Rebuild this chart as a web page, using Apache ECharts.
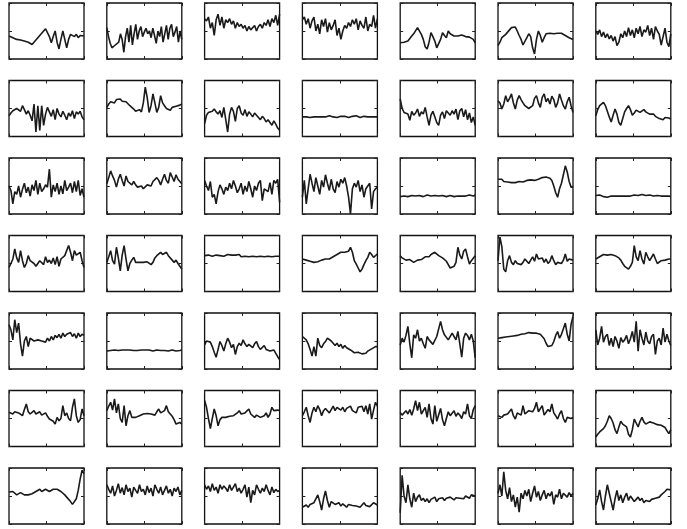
<!DOCTYPE html>
<html>
<head>
<meta charset="utf-8">
<script src="https://cdn.jsdelivr.net/npm/echarts@6/dist/echarts.min.js"></script>
<style>
  html, body { margin: 0; padding: 0; background: #fff; }
  #chart { width: 687px; height: 529px; }
</style>
</head>
<body>
<div id="chart"></div>
<script>
// Signal traces for a 7 x 7 panel grid, values on a 0..100 vertical scale.
const r1c1 = [41,40,38,36,35,34,34,33,32,31,30,28,26,30,34,38,42,46,50,54,52,40,29,40,50,30,18,35,50,35,20,35,44,42,40,44,38,42,40,41];
const r1c2 = [56,40,28,20,18,25,22,30,45,35,12,40,55,30,60,25,45,62,35,50,58,40,48,55,45,50,38,55,42,28,50,40,58,30,45,60,35,55,62,40,48,58,30,50,35];
const r1c3 = [72,68,75,55,65,42,70,80,60,75,55,70,65,72,62,68,55,65,58,62,55,60,50,58,52,55,60,50,58,62,55,65,60,70,58,72,65,78,60,80];
const r1c4 = [70,75,62,72,55,68,75,50,62,45,70,58,72,48,65,52,60,70,42,55,35,50,60,55,65,58,70,62,72,52,68,60,55,75,50,62,58,78,55,72];
const r1c5 = [29,29,30,29,32,35,41,45,48,56,54,44,35,22,18,30,47,40,32,20,18,35,47,42,38,50,45,42,41,42,41,44,43,42,40,41,39,37,35,29];
const r1c6 = [24,30,38,40,44,48,52,56,59,57,50,42,35,25,24,38,45,40,20,9,35,50,42,30,38,45,48,46,47,45,47,46,48,46,44,42,40,38,36,35];
const r1c7 = [50,44,52,40,48,38,45,36,42,32,40,24,30,45,38,50,40,56,42,52,38,55,45,58,40,52,48,60,42,55,35,58,50,44,25,40,55,30,22,45];

const r2c1 = [37,42,46,44,50,52,45,55,48,40,46,38,28,58,8,55,11,55,20,40,52,44,36,48,30,50,40,35,45,38,30,42,36,46,32,44,40,45,35,30];
const r2c2 = [52,58,62,64,60,66,64,67,63,66,62,60,55,52,49,45,43,48,44,60,88,70,43,55,76,60,43,52,73,60,55,50,49,47,52,50,54,55,56,58];
const r2c3 = [23,38,43,40,45,49,44,40,46,34,52,30,8,40,52,45,27,50,55,42,38,48,36,44,40,35,42,38,34,30,36,32,26,30,25,20,28,22,15,11];
const r2c4 = [35,36,35,35,34,36,35,37,35,34,35,36,35,34,37,36,35,36,34,35,36,38,36,35,34,35,36,35,37,36,34,35,36,35,35,36,35,34,35,35];
const r2c5 = [67,50,43,46,40,29,45,38,42,49,36,44,40,52,35,20,38,45,48,25,20,38,44,32,46,42,38,46,40,49,30,46,50,35,48,30,42,25,35,20];
const r2c6 = [64,60,49,58,73,62,68,76,60,49,65,73,66,60,55,52,50,49,55,68,73,60,52,70,76,62,68,58,72,66,52,60,76,65,55,49,62,70,55,43];
const r2c7 = [37,48,55,58,61,55,45,35,26,38,49,40,25,20,32,44,50,55,48,38,42,47,45,43,46,48,44,42,40,38,40,36,34,32,35,30,34,37,33,31];

const r3c1 = [50,42,18,40,35,50,30,44,55,38,48,32,52,42,60,35,55,40,45,52,48,80,30,52,40,55,35,50,36,60,42,48,55,38,58,40,60,33,45,30];
const r3c2 = [54,65,77,68,60,48,62,71,60,50,68,58,55,52,58,52,48,46,50,45,48,52,55,50,58,55,65,60,52,62,71,60,55,74,66,58,70,62,60,54];
const r3c3 = [60,50,42,58,30,35,18,40,52,45,35,48,42,55,45,60,50,38,45,55,35,50,40,58,45,30,50,42,55,60,24,45,48,40,56,35,60,55,62,21];
const r3c4 = [30,60,18,45,71,55,40,65,50,35,60,48,70,55,42,62,45,38,58,48,62,55,65,50,30,0,45,55,48,60,40,52,30,45,50,55,9,40,45,48];
const r3c5 = [31,33,32,34,31,30,33,34,32,31,33,32,31,32,34,33,32,31,33,32,32,31,33,32,31,32,33,32,31,32,32,33,32,31,32,33,34,33,32,34];
const r3c6 = [62,60,62,58,55,57,54,56,54,56,55,58,56,57,58,60,59,61,62,60,63,62,64,65,63,66,65,64,60,50,38,30,45,55,70,86,75,58,48,48];
const r3c7 = [33,32,34,33,31,32,30,31,32,31,32,31,32,33,32,31,32,33,32,33,34,32,33,31,35,37,33,32,34,33,32,34,33,31,32,33,32,31,32,31];

const r4c1 = [43,50,58,76,60,52,73,55,43,50,64,55,58,50,45,43,55,58,48,62,52,56,50,60,48,62,45,58,55,64,67,82,70,55,73,65,62,70,55,43];
const r4c2 = [52,62,73,55,49,79,60,37,65,82,58,37,50,56,61,52,55,52,50,52,55,53,50,48,52,60,64,67,70,66,68,70,64,62,56,52,56,50,45,40];
const r4c3 = [64,63,65,64,63,64,65,63,64,65,63,64,66,63,65,62,65,63,66,62,65,63,66,62,65,63,66,62,65,63,66,62,65,63,65,62,64,63,65,63];
const r4c4 = [58,57,56,55,54,53,52,52,53,55,56,58,58,57,58,60,62,64,66,68,70,73,70,67,72,79,70,55,49,42,35,40,48,55,61,70,66,61,64,67];
const r4c5 = [64,60,58,56,55,57,55,52,53,56,58,57,60,62,64,62,66,67,70,68,64,62,60,58,54,48,42,40,45,52,79,65,58,72,76,62,49,55,58,64];
const r4c6 = [55,97,80,40,35,55,64,52,48,55,50,52,48,52,58,55,50,56,62,54,67,58,55,60,52,58,50,54,64,55,48,52,55,50,56,67,54,58,55,56];
const r4c7 = [58,56,62,64,66,67,65,63,66,67,64,62,60,56,50,45,43,40,45,52,82,62,55,73,58,49,70,62,55,52,67,58,50,49,55,58,56,57,58,58];

const r5c1 = [79,70,52,88,65,82,45,23,50,58,40,55,52,50,48,52,49,50,52,48,55,50,58,52,60,56,62,55,64,58,62,60,65,58,63,55,64,58,62,60];
const r5c2 = [32,34,33,32,34,33,33,35,34,33,34,35,34,36,33,34,33,35,34,33,34,33,34,33,32,33,34,33,33,34,33,34,32,33,34,33,32,34,33,34];
const r5c3 = [43,50,52,48,40,30,21,35,49,42,32,45,55,48,38,44,26,40,46,42,52,45,40,44,42,38,45,49,40,35,38,42,35,38,32,30,34,28,22,17];
const r5c4 = [58,55,52,45,35,23,40,23,55,42,38,45,49,55,58,50,49,42,46,40,44,37,42,38,36,34,36,29,32,30,28,27,26,28,32,34,36,38,40,40];
const r5c5 = [43,55,48,60,76,45,20,61,55,70,50,55,45,37,58,52,48,44,42,58,55,85,70,61,60,52,55,64,58,52,67,45,21,55,64,60,52,62,50,20];
const r5c6 = [55,54,56,55,57,56,58,57,59,56,60,58,62,60,63,62,65,67,64,62,64,66,62,58,54,46,40,37,42,49,60,67,55,62,72,82,62,50,80,94];
const r5c7 = [70,43,55,76,48,58,62,42,55,40,58,50,37,56,48,52,60,45,54,67,48,85,32,70,55,43,66,50,45,58,62,26,50,55,43,73,48,62,50,42];

const r6c1 = [61,64,58,62,64,60,62,55,66,76,62,58,60,64,58,60,62,56,58,60,54,49,52,45,40,52,46,50,73,55,60,50,46,70,85,55,43,48,67,55];
const r6c2 = [64,72,79,65,85,60,76,50,43,73,37,55,64,52,49,52,54,55,56,58,56,59,60,58,61,56,62,67,60,62,64,73,62,58,54,48,40,42,43,40];
const r6c3 = [82,70,50,32,50,67,55,37,48,52,49,52,50,54,52,55,58,60,64,58,56,60,62,67,58,55,52,56,58,52,49,55,60,52,58,70,64,62,65,64];
const r6c4 = [55,62,70,55,43,60,70,62,73,66,55,64,68,70,60,66,72,64,70,73,65,70,62,68,66,72,64,66,60,70,68,72,62,73,58,76,49,65,79,72];
const r6c5 = [61,56,58,64,58,66,56,67,82,64,79,58,55,70,52,76,50,40,73,45,43,68,48,37,50,62,55,58,64,54,60,56,50,62,58,76,55,50,66,73];
const r6c6 = [55,58,52,56,54,58,61,67,55,49,60,62,56,73,58,55,64,61,62,68,79,62,60,73,56,58,66,62,76,60,55,49,58,64,50,43,52,55,50,52];
const r6c7 = [17,22,26,28,32,37,45,55,50,42,30,23,35,45,40,43,35,22,17,30,49,42,35,45,52,44,40,42,44,43,42,40,39,40,38,36,34,28,23,30];

const r7c1 = [57,55,58,55,52,55,56,54,52,50,52,55,54,56,58,60,62,58,60,62,60,58,60,62,64,62,60,58,55,52,48,45,40,35,34,45,60,80,96,90];
const r7c2 = [70,62,55,68,50,60,72,55,65,52,70,58,64,48,66,60,55,70,58,62,52,68,56,64,50,70,62,55,66,52,60,68,55,62,50,64,58,66,52,60];
const r7c3 = [70,62,68,58,72,60,66,55,70,62,68,64,58,70,60,66,72,58,64,55,62,70,48,66,38,60,52,70,62,55,64,58,70,60,52,66,56,62,58,60];
const r7c4 = [30,32,34,30,35,33,38,45,52,40,25,45,59,42,30,40,38,35,34,38,32,36,34,30,35,38,33,36,32,35,30,34,38,33,36,31,34,38,36,34];
const r7c5 = [20,87,50,38,70,45,30,55,40,48,52,42,46,40,45,38,44,42,48,40,45,43,47,42,46,44,48,45,43,47,50,46,48,45,50,48,46,52,50,50];
const r7c6 = [55,70,50,93,60,45,65,40,52,30,48,21,55,45,60,50,62,40,55,68,48,58,42,52,60,45,55,50,58,35,52,48,62,45,55,52,48,56,50,55];
const r7c7 = [34,45,61,40,25,50,70,55,40,25,45,60,42,52,38,48,55,42,50,45,40,44,48,42,46,38,42,45,40,44,42,46,44,48,52,55,58,62,60,61];

const panelRows = [
  [r1c1, r1c2, r1c3, r1c4, r1c5, r1c6, r1c7],
  [r2c1, r2c2, r2c3, r2c4, r2c5, r2c6, r2c7],
  [r3c1, r3c2, r3c3, r3c4, r3c5, r3c6, r3c7],
  [r4c1, r4c2, r4c3, r4c4, r4c5, r4c6, r4c7],
  [r5c1, r5c2, r5c3, r5c4, r5c5, r5c6, r5c7],
  [r6c1, r6c2, r6c3, r6c4, r6c5, r6c6, r6c7],
  [r7c1, r7c2, r7c3, r7c4, r7c5, r7c6, r7c7]
];

const grid = [], xAxis = [], yAxis = [], series = [];

function axisBase(g, min, max, interval) {
  return {
    type: 'value', gridIndex: g, min: min, max: max, interval: interval,
    axisLine: { show: false, onZero: false },
    axisLabel: { show: false },
    splitLine: { show: false },
    axisTick: { show: true, inside: true, length: 3, lineStyle: { color: '#222', width: 1 } }
  };
}

panelRows.forEach((row, r) => {
  row.forEach((vals, c) => {
    const g = grid.length;
    grid.push({
      left: 9 + c * 97.8, top: 3 + r * 77.5, width: 75, height: 56,
      show: true, borderColor: '#111', borderWidth: 1.3, backgroundColor: '#fff'
    });
    const n = vals.length - 1;
    const xi = xAxis.length, yi = yAxis.length;
    xAxis.push(
      Object.assign(axisBase(g, 0, n, n / 2), { position: 'bottom' }),
      Object.assign(axisBase(g, 0, n, n / 2), { position: 'top' })
    );
    yAxis.push(
      Object.assign(axisBase(g, 0, 100, 50), { position: 'left' }),
      Object.assign(axisBase(g, 0, 100, 50), { position: 'right' })
    );
    series.push({
      type: 'line', xAxisIndex: xi, yAxisIndex: yi,
      data: vals.map((v, i) => [i, v]),
      showSymbol: false, silent: true, animation: false,
      lineStyle: { color: '#1a1a1a', width: 1.6 }
    });
  });
});

const chart = echarts.init(document.getElementById('chart'), null, { renderer: 'canvas' });
chart.setOption({
  backgroundColor: '#fff',
  animation: false,
  grid, xAxis, yAxis, series
});
</script>
</body>
</html>
